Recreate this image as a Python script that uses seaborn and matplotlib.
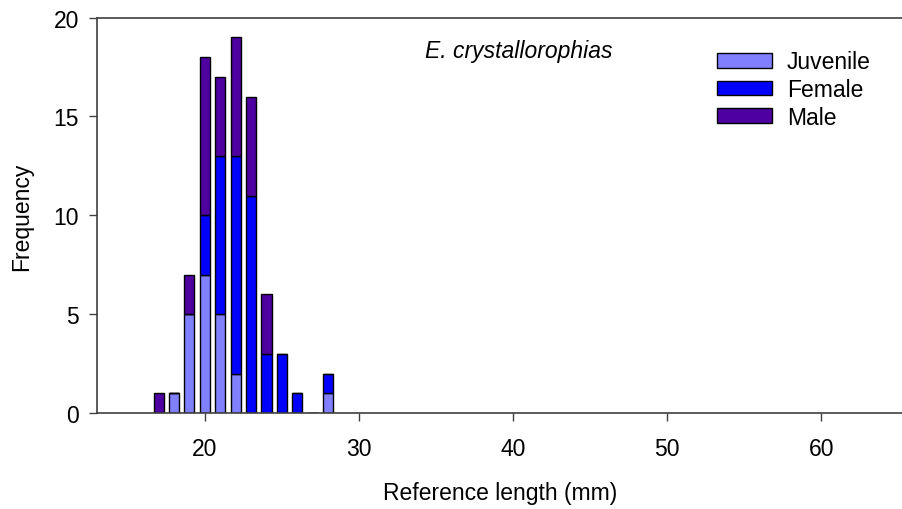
import matplotlib
matplotlib.use("Agg")
import matplotlib.pyplot as plt
import seaborn as sns
import pandas as pd
from matplotlib.patches import Patch

# Data
lengths = [17, 18, 19, 20, 21, 22, 23, 24, 25, 26, 28]
juvenile = [0, 1, 5, 7, 5, 2, 0, 0, 0, 0, 1]
female = [0, 0, 0, 3, 8, 11, 11, 3, 3, 1, 1]
male = [1, 0, 2, 8, 4, 6, 5, 3, 0, 0, 0]
groups = ["Juvenile", "Female", "Male"]
colors = {"Juvenile": "#8080FF", "Female": "#0000FF", "Male": "#4E00A0"}
x_ticks = [20, 30, 40, 50, 60]
y_ticks = [0, 5, 10, 15, 20]

rows = []
for g, vals in zip(groups, [juvenile, female, male]):
    for L, v in zip(lengths, vals):
        if v > 0:
            rows.append({"length": L, "count": v, "group": g})
df = pd.DataFrame(rows)

sns.set_style("white")
plt.rcParams["font.family"] = ["Liberation Sans", "DejaVu Sans"]
plt.rcParams["text.color"] = "black"
plt.rcParams["axes.labelcolor"] = "black"
plt.rcParams["xtick.color"] = "black"
plt.rcParams["ytick.color"] = "black"

FS = 16.5

fig = plt.figure(figsize=(9.03, 5.10), dpi=100)
ax = fig.add_axes([0.1074, 0.188, 0.8926, 0.7755])

sns.histplot(data=df, x="length", weights="count", hue="group",
             hue_order=["Male", "Female", "Juvenile"], multiple="stack",
             discrete=True, shrink=0.65, palette=colors, alpha=1,
             edgecolor="black", linewidth=1.0, legend=False, ax=ax)

ax.set_xlim(13, 65.3)
ax.set_ylim(0, 20)
ax.set_xticks(x_ticks)
ax.set_yticks(y_ticks)
ax.tick_params(axis="both", direction="out", length=6, width=1, color="#404040",
               labelsize=FS, bottom=True, left=True)
ax.tick_params(axis="x", pad=11)
ax.tick_params(axis="y", pad=7)
for s in ["left", "bottom", "top"]:
    ax.spines[s].set_visible(True)
    ax.spines[s].set_color("#404040")
    ax.spines[s].set_linewidth(1.2)
ax.spines["right"].set_visible(False)

ax.set_xlabel("Reference length (mm)", fontsize=FS)
ax.set_ylabel("Frequency", fontsize=FS)
ax.xaxis.set_label_coords(0.5, -0.172)
ax.yaxis.set_label_coords(-0.079, 0.5)

ax.text(0.523, 0.917, "E. crystallorophias", transform=ax.transAxes,
        ha="center", va="center", fontsize=FS, style="italic")

handles = [Patch(facecolor=colors[g], edgecolor="black", linewidth=1.0, label=g)
           for g in groups]
ax.legend(handles=handles, loc="upper left", bbox_to_anchor=(0.769, 0.917),
          frameon=False, fontsize=FS, handlelength=2.4, handleheight=0.61,
          labelspacing=0.2, handletextpad=0.65, borderaxespad=0, borderpad=0)

fig.savefig("out.png", dpi=100)
